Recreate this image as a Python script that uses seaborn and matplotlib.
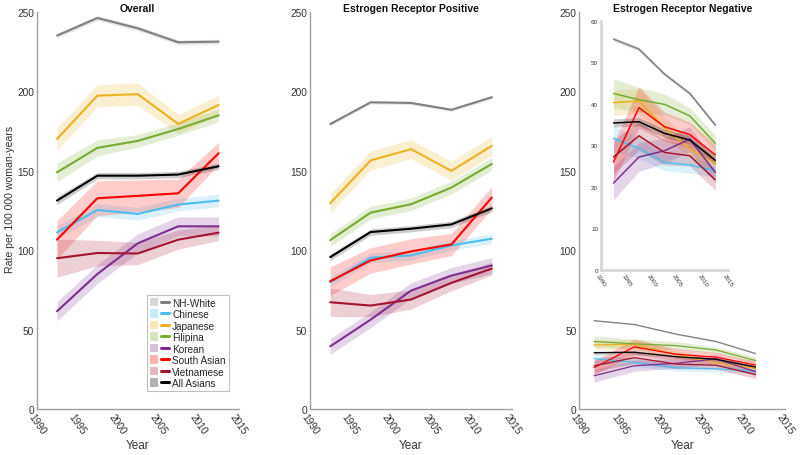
"""
Breast cancer incidence trends by ethnic group: overall, ER+ and ER-
"""

import pandas as pd
import matplotlib.pyplot as plt
import seaborn as sns
from matplotlib.lines import Line2D
from matplotlib.patches import Patch
from matplotlib.legend_handler import HandlerTuple

sns.set_style('white')
plt.rcParams['font.family'] = ['Liberation Sans', 'DejaVu Sans']

groups = ['NH-White', 'Chinese', 'Japanese', 'Filipina', 'Korean',
          'South Asian', 'Vietnamese', 'All Asians']
colors = ['#808080', '#4DBEEE', '#EDB120', '#77AC30', '#7E2F8E',
          '#FF0000', '#A2142F', '#000000']

years = [1992.5, 1997.5, 2002.5, 2007.5, 2012.5]
years_neg_main = [1991.8, 1996.7, 2001.7, 2006.6, 2011.4]

# rates per 100 000 woman-years, one list per group
overall = {
    'NH-White':    [235.1, 246.2, 239.7, 230.9, 231.3],
    'Chinese':     [111.2, 125.3, 122.8, 128.7, 131.2],
    'Japanese':    [170.0, 197.3, 198.2, 179.5, 191.4],
    'Filipina':    [149.0, 164.4, 168.8, 176.3, 184.9],
    'Korean':      [61.5, 85.0, 104.3, 115.0, 115.0],
    'South Asian': [106.6, 132.7, 134.2, 135.8, 161.0],
    'Vietnamese':  [94.9, 98.2, 97.9, 106.6, 111.0],
    'All Asians':  [131.2, 146.9, 146.9, 147.6, 152.8],
}
overall_ci = {
    'NH-White':    [1.5, 1.5, 1.5, 1.5, 1.5],
    'Chinese':     [4, 4, 4, 4, 4],
    'Japanese':    [7, 7, 7, 6, 6],
    'Filipina':    [6, 5, 4, 4, 4],
    'Korean':      [6, 6, 6, 6, 6],
    'South Asian': [12, 11, 10, 9, 7],
    'Vietnamese':  [12, 8, 7, 6, 5],
    'All Asians':  [2.5, 2, 2, 2, 2],
}

er_pos = {
    'NH-White':    [179.4, 193.1, 192.7, 188.4, 196.3],
    'Chinese':     [79.8, 95.2, 96.7, 103.0, 107.2],
    'Japanese':    [129.5, 156.5, 163.6, 149.9, 165.7],
    'Filipina':    [106.3, 123.6, 128.9, 139.4, 154.3],
    'Korean':      [39.4, 56.2, 74.5, 84.0, 90.3],
    'South Asian': [80.4, 93.5, 99.2, 103.6, 133.1],
    'Vietnamese':  [67.2, 65.1, 68.9, 79.4, 88.4],
    'All Asians':  [95.6, 111.4, 113.5, 116.2, 126.3],
}
er_pos_ci = {
    'NH-White':    [1, 1, 1, 1, 1],
    'Chinese':     [3, 3, 3, 3, 3],
    'Japanese':    [6, 6, 6, 6, 6],
    'Filipina':    [4, 4, 4, 4, 4],
    'Korean':      [5, 5, 5, 5, 5],
    'South Asian': [9, 8, 8, 7, 7],
    'Vietnamese':  [9, 7, 6, 5, 4],
    'All Asians':  [2, 2, 2, 2, 2],
}

er_neg = {
    'NH-White':    [55.6, 53.2, 47.2, 42.5, 34.9],
    'Chinese':     [31.7, 29.3, 25.9, 25.3, 23.9],
    'Japanese':    [40.3, 40.7, 34.3, 29.1, 25.6],
    'Filipina':    [42.5, 41.0, 39.9, 37.1, 30.5],
    'Korean':      [20.9, 27.2, 28.7, 31.5, 23.5],
    'South Asian': [26.0, 39.1, 34.5, 32.6, 27.7],
    'Vietnamese':  [27.2, 32.3, 28.3, 27.5, 21.7],
    'All Asians':  [35.4, 35.7, 32.9, 31.3, 26.4],
}
er_neg_ci = {
    'NH-White':    [0.5, 0.5, 0.5, 0.5, 0.5],
    'Chinese':     [3, 2.5, 2, 2, 1.5],
    'Japanese':    [3, 3, 2.5, 2, 2],
    'Filipina':    [3.5, 3, 2.5, 2, 2],
    'Korean':      [4, 3.5, 3, 3, 2.5],
    'South Asian': [4.5, 5, 3.5, 3, 2.5],
    'Vietnamese':  [4, 3.5, 3, 2.5, 2.5],
    'All Asians':  [1, 1, 1, 1, 1],
}

palette = dict(zip(groups, colors))
spine_col = '#a0a0a0'
text_col = '#333333'


def to_long(values, ci, x):
    rows = []
    for g in groups:
        for xi, v, c in zip(x, values[g], ci[g]):
            rows.append({'year': xi, 'rate': v, 'lo': v - c, 'hi': v + c, 'group': g})
    return pd.DataFrame(rows)


def draw_panel(ax, df, lw=1.5, alpha=0.2):
    for g in groups:
        d = df[df['group'] == g]
        ax.fill_between(d['year'], d['lo'], d['hi'], color=palette[g],
                        alpha=alpha, linewidth=0)
    sns.lineplot(data=df, x='year', y='rate', hue='group', hue_order=groups,
                 palette=palette, linewidth=lw, legend=False, ax=ax,
                 errorbar=None, sort=False)


def style_axes(ax, ymax, yticks, fs=7.3, spine_w=1.0, spine_c=spine_col):
    ax.set_xlim(1990, 2015)
    ax.set_ylim(0, ymax)
    ax.set_xticks([1990, 1995, 2000, 2005, 2010, 2015])
    ax.set_yticks(yticks)
    for s in ['top', 'right']:
        ax.spines[s].set_visible(False)
    for s in ['left', 'bottom']:
        ax.spines[s].set_color(spine_c)
        ax.spines[s].set_linewidth(spine_w)
    ax.tick_params(direction='in', length=3, width=0.8, color=spine_c,
                   labelsize=fs, labelcolor=text_col, pad=2)
    plt.setp(ax.get_xticklabels(), rotation=-55)
    ax.set_xlabel('')
    ax.set_ylabel('')
    ax.patch.set_alpha(0)


fig = plt.figure(figsize=(8, 4.56), dpi=100)
ax1 = fig.add_axes([0.046, 0.101, 0.2525, 0.8706])
ax2 = fig.add_axes([0.3875, 0.101, 0.2525, 0.8706])
ax3 = fig.add_axes([0.724, 0.101, 0.2575, 0.8706])
ax_in = fig.add_axes([0.751, 0.406, 0.159, 0.546])

draw_panel(ax1, to_long(overall, overall_ci, years))
draw_panel(ax2, to_long(er_pos, er_pos_ci, years))
draw_panel(ax3, to_long(er_neg, er_neg_ci, years_neg_main), lw=0.9, alpha=0.2)
draw_panel(ax_in, to_long(er_neg, er_neg_ci, years), lw=1.1, alpha=0.2)

for ax, title in zip([ax1, ax2, ax3],
                     ['Overall', 'Estrogen Receptor Positive', 'Estrogen Receptor Negative']):
    style_axes(ax, 250, [0, 50, 100, 150, 200, 250])
    ax.set_title(title, fontsize=7.5, fontweight='bold', pad=1, color='#111111')
    ax.set_xlabel('Year', fontsize=8.5, color=text_col, labelpad=2)

ax1.set_ylabel('Rate per 100 000 woman-years', fontsize=7.6, color=text_col)
ax1.yaxis.set_label_coords(-0.11, 0.53)

style_axes(ax_in, 60, [0, 10, 20, 30, 40, 50, 60], fs=4.5, spine_w=2.0, spine_c='#d8d8d8')
ax_in.tick_params(color='#b0b0b0', length=2)
ax_in.set_xlabel('')

# legend with band + line handles
handles = [(Patch(facecolor=c, alpha=0.3, edgecolor='none'), Line2D([], [], color=c, lw=2.2))
           for c in colors]
leg = ax1.legend(handles, groups, handler_map={tuple: HandlerTuple(ndivide=None)},
                 loc='lower right', bbox_to_anchor=(0.96, 0.04), fontsize=7.2,
                 frameon=True, fancybox=False, handlelength=1.9, handleheight=0.9,
                 handletextpad=0.3, labelspacing=0.15, borderpad=0.3,
                 borderaxespad=0.2)
leg.get_frame().set_edgecolor('#b0b0b0')
leg.get_frame().set_linewidth(0.8)

fig.savefig('out.png', dpi=100)
plt.close()
